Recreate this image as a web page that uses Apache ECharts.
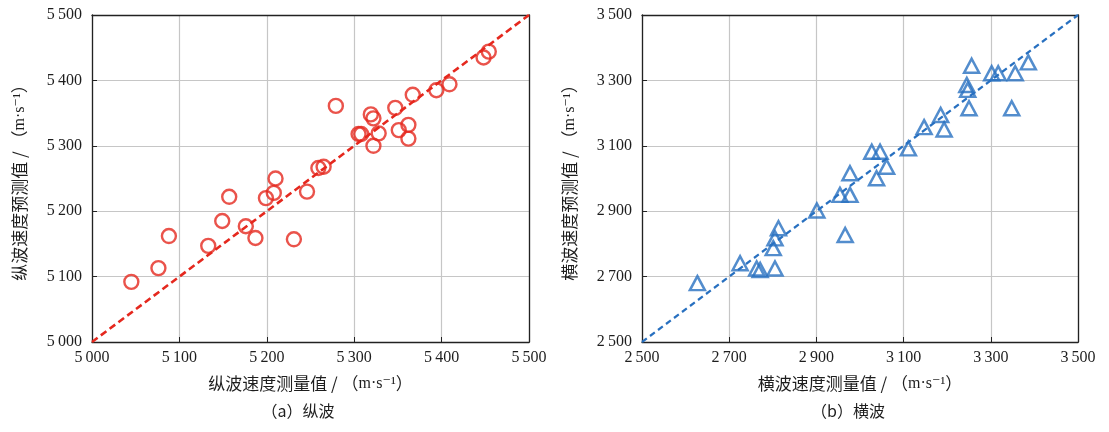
<!DOCTYPE html>
<html>
<head>
<meta charset="utf-8">
<script src="https://cdn.jsdelivr.net/npm/echarts@6/dist/echarts.min.js"></script>
<style>
  html, body { margin: 0; padding: 0; background: #ffffff; }
  #chart { width: 1109px; height: 432px; }
</style>
</head>
<body>
<div id="chart"></div>
<script>
// P-wave: measured vs predicted velocity (m/s)
const pMeasured = [5045, 5076, 5088, 5133, 5149, 5157, 5176, 5187, 5199, 5208, 5210, 5231, 5246, 5259, 5265, 5279,
  5305, 5308, 5319, 5322, 5328, 5322, 5347, 5351, 5362, 5362, 5367, 5394, 5409, 5448, 5454];
const pPredicted = [5092, 5113, 5162, 5147, 5185, 5222, 5177, 5159, 5220, 5228, 5250, 5157, 5230, 5266, 5268, 5361,
  5318, 5318, 5348, 5342, 5319, 5300, 5358, 5324, 5332, 5311, 5378, 5385, 5394, 5435, 5444];

// S-wave: measured vs predicted velocity (m/s)
const sMeasured = [2627, 2725, 2763, 2771, 2805, 2801, 2805, 2813, 2901, 2954, 2966, 2977, 2977, 3027, 3046, 3038,
  3061, 3111, 3147, 3185, 3193, 3245, 3247, 3256, 3250, 3302, 3317, 3356, 3348, 3386];
const sPredicted = [2680, 2741, 2725, 2720, 2725, 2787, 2817, 2848, 2902, 2950, 2827, 3016, 2950, 3082, 3082, 3001,
  3036, 3092, 3157, 3194, 3150, 3286, 3271, 3345, 3215, 3322, 3322, 3322, 3215, 3355];

// axis ranges and tick steps
const pRange = [5000, 5500];
const pStep = 100;
const sRange = [2500, 3500];
const sStep = 200;

// texts
const pXName = '纵波速度测量值';
const pYName = '纵波速度预测值';
const sXName = '横波速度测量值';
const sYName = '横波速度预测值';
const unitText = 'm·s⁻¹';
const pCaption = '（a）纵波';
const sCaption = '（b）横波';

const RED = '#e5281e';
const BLUE = '#2870c0';
const TEXT = '#1e1e1e';
const NUM_FONT = '"Liberation Serif", "DejaVu Serif", serif';
const CJK_FONT = '"Noto Sans CJK SC", "Liberation Serif", serif';

const fmt = v => {
  const s = String(Math.round(v));
  return s.length > 3 ? s.slice(0, s.length - 3) + '\u2009' + s.slice(-3) : s;
};

function zip(a, b) { return a.map((v, i) => [v, b[i]]); }

// axis title: CJK part plus the unit set in a latin serif face
function axisTitle(label) {
  return '{c|' + label + ' / （}{u|' + unitText + '}{c|）}';
}
const nameRich = {
  c: { fontFamily: CJK_FONT, fontSize: 17, color: TEXT },
  u: { fontFamily: NUM_FONT, fontSize: 16, color: TEXT }
};

function xAxisFor(idx, range, step, name) {
  return {
    type: 'value', gridIndex: idx, min: range[0], max: range[1], interval: step,
    name: axisTitle(name), nameLocation: 'middle', nameGap: 33,
    nameTextStyle: { rich: nameRich },
    axisLine: { show: true, onZero: false, lineStyle: { color: '#222', width: 1.3 } },
    axisTick: { show: true, inside: true, length: 5, lineStyle: { color: '#222' } },
    axisLabel: { formatter: fmt, fontFamily: NUM_FONT, fontSize: 16, color: TEXT, margin: 8 },
    splitLine: { show: true, lineStyle: { color: '#c6c6c6', width: 1.2 } }
  };
}
function yAxisFor(idx, range, step, name) {
  return {
    type: 'value', gridIndex: idx, min: range[0], max: range[1], interval: step,
    name: axisTitle(name), nameLocation: 'middle', nameGap: 64, nameRotate: 90,
    nameTextStyle: { rich: nameRich },
    axisLine: { show: true, onZero: false, lineStyle: { color: '#222', width: 1.3 } },
    axisTick: { show: true, inside: true, length: 5, lineStyle: { color: '#222' } },
    axisLabel: { formatter: fmt, fontFamily: NUM_FONT, fontSize: 16, color: TEXT, margin: 10 },
    splitLine: { show: true, lineStyle: { color: '#c6c6c6', width: 1.2 } }
  };
}
// top/right frame lines
function frameX(idx, range) {
  return { type: 'value', gridIndex: idx, min: range[0], max: range[1], position: 'top',
    axisLine: { show: true, onZero: false, lineStyle: { color: '#222', width: 1.3 } },
    axisTick: { show: false }, axisLabel: { show: false }, splitLine: { show: false } };
}
function frameY(idx, range) {
  return { type: 'value', gridIndex: idx, min: range[0], max: range[1], position: 'right',
    axisLine: { show: true, onZero: false, lineStyle: { color: '#222', width: 1.3 } },
    axisTick: { show: false }, axisLabel: { show: false }, splitLine: { show: false } };
}

const chart = echarts.init(document.getElementById('chart'), null, { renderer: 'canvas' });

chart.setOption({
  backgroundColor: '#ffffff',
  animation: false,
  grid: [
    { left: 92, top: 15, width: 437, height: 327 },
    { left: 642, top: 15, width: 436, height: 327 }
  ],
  xAxis: [
    xAxisFor(0, pRange, pStep, pXName),
    xAxisFor(1, sRange, sStep, sXName),
    frameX(0, pRange),
    frameX(1, sRange)
  ],
  yAxis: [
    yAxisFor(0, pRange, pStep, pYName),
    yAxisFor(1, sRange, sStep, sYName),
    frameY(0, pRange),
    frameY(1, sRange)
  ],
  graphic: [
    { type: 'text', x: 298, y: 411,
      style: { text: pCaption, font: '16px ' + CJK_FONT, fill: TEXT, align: 'center', verticalAlign: 'middle' } },
    { type: 'text', x: 848, y: 411,
      style: { text: sCaption, font: '16px ' + CJK_FONT, fill: TEXT, align: 'center', verticalAlign: 'middle' } }
  ],
  series: [
    {
      type: 'line', xAxisIndex: 0, yAxisIndex: 0, data: [0, 1].map(i => [pRange[i], pRange[i]]),
      symbol: 'none', silent: true, z: 3,
      lineStyle: { color: RED, width: 2.6, type: [7, 4] }
    },
    {
      type: 'scatter', xAxisIndex: 0, yAxisIndex: 0, data: zip(pMeasured, pPredicted),
      symbol: 'circle', symbolSize: 14, z: 4,
      itemStyle: { color: 'rgba(255,255,255,0)', borderColor: RED, borderWidth: 2.4 }
    },
    {
      type: 'line', xAxisIndex: 1, yAxisIndex: 1, data: [0, 1].map(i => [sRange[i], sRange[i]]),
      symbol: 'none', silent: true, z: 3,
      lineStyle: { color: BLUE, width: 2.2, type: [6, 4] }
    },
    {
      type: 'scatter', xAxisIndex: 1, yAxisIndex: 1, data: zip(sMeasured, sPredicted),
      symbol: 'triangle', symbolSize: [15, 14], z: 4,
      itemStyle: { color: 'rgba(255,255,255,0)', borderColor: BLUE, borderWidth: 2.5 }
    }
  ]
});
</script>
</body>
</html>
